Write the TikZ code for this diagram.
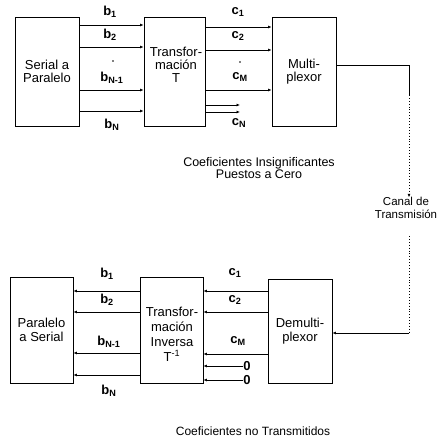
\documentclass[tikz,border=0pt]{standalone}
\usepackage{fontspec}
\setmainfont{Liberation Sans}
\usetikzlibrary{arrows.meta,calc}
\begin{document}
\begin{tikzpicture}[x=1pt,y=-1pt,
  blk/.style={draw, line width=0.9pt, inner sep=0pt, align=center, font=\fontsize{13}{13.5}\selectfont},
  lbl/.style={inner sep=0pt, font=\fontsize{13}{14}\selectfont\bfseries},
  txt/.style={inner sep=0pt, align=center, font=\fontsize{12.5}{12.5}\selectfont},
  conn/.style={line width=0.9pt, -{Latex[length=3.5pt,width=3pt]}},
  wire/.style={line width=0.9pt},
  faint/.style={line width=0.9pt, dotted},
  dotm/.style={circle, fill, inner sep=0pt, minimum size=1.6pt}
]
\useasboundingbox (0,0) rectangle (439,441);
% ---------------- transmitter ----------------
\node[blk, minimum width=64pt, minimum height=109pt] (sp) at (47,71.5) {Serial a\\Paralelo};
\node[blk, minimum width=61pt, minimum height=109pt] (tr) at (174.5,71.5) {};
\node[txt, font=\fontsize{13}{13}\selectfont] (trt) at (176,65) {Transfor-\\mación\\T};
\node[blk, minimum width=64pt, minimum height=109pt] (mux) at (304,71.5) {Multi-\\plexor};

\coordinate (yb1) at (0,25);  \coordinate (yb2) at (0,47);
\coordinate (ybn1) at (0,90); \coordinate (ybn) at (0,111);
\coordinate (yc1) at (0,27);  \coordinate (yc2) at (0,50);
\coordinate (ycm) at (0,90);
\coordinate (e1) at (240,105); \coordinate (e2) at (240,112);

\draw[conn] (sp.east |- yb1) -- (tr.west |- yb1);
\draw[conn] (sp.east |- yb2) -- (tr.west |- yb2);
\draw[conn] (sp.east |- ybn1) -- (tr.west |- ybn1);
\draw[conn] (sp.east |- ybn) -- (tr.west |- ybn);
\draw[conn] (tr.east |- yc1) -- (mux.west |- yc1);
\draw[conn] (tr.east |- yc2) -- (mux.west |- yc2);
\draw[conn] (tr.east |- ycm) -- (mux.west |- ycm);
\draw[conn] (tr.east |- e1) -- (e1);
\draw[conn] (tr.east |- e2) -- (e2);

\node[lbl] (lb1) at (110,12) {b\textsubscript{1}};
\node[lbl] (lb2) at (110,35) {b\textsubscript{2}};
\node[dotm] (d1) at (113,61) {};
\node[lbl] (lbn1) at (112,78) {b\textsubscript{N-1}};
\node[lbl] (lbn) at (112,125) {b\textsubscript{N}};
\node[lbl] (lc1) at (238,12) {c\textsubscript{1}};
\node[lbl] (lc2) at (238,36) {c\textsubscript{2}};
\node[dotm] (d2) at (240,62) {};
\node[lbl] (lcm) at (240,77) {c\textsubscript{M}};
\node[lbl] (lcn) at (239,123) {c\textsubscript{N}};

\node[txt] (ins) at (259,168) {Coeficientes Insignificantes\\Puestos a Cero};
\node[txt, font=\fontsize{11.5}{12.5}\selectfont] (canal) at (406,208) {Canal de\\Transmisión};

\coordinate (o1) at (409,65);
\coordinate (o2) at (409,95);
\draw[wire] (mux.east |- o1) -- (o1) -- (o2);
\draw[faint, -{Latex[length=3.5pt,width=3pt]}] (o2) -- (o2 |- canal.north);

% ---------------- receiver ----------------
\node[blk, minimum width=63pt, minimum height=106pt] (ps) at (41.5,330) {Paralelo\\a Serial};
\node[blk, minimum width=63pt, minimum height=106pt] (inv) at (171.5,330) {};
\node[txt, font=\fontsize{13}{15}\selectfont] (invt) at (172,334) {Transfor-\\mación\\Inversa\\T\textsuperscript{-1}};
\node[blk, minimum width=64pt, minimum height=104pt] (dmx) at (300,331) {Demulti-\\plexor};

\coordinate (ch1) at (409,236);
\coordinate (ch2) at (409,333);
\draw[faint] (ch1) -- (ch2);
\draw[conn] (ch2) -- (dmx.east |- ch2);

\coordinate (rc1) at (0,291); \coordinate (rc2) at (0,312);
\coordinate (rcm) at (0,354);
\coordinate (rb1) at (0,291); \coordinate (rb2) at (0,312);
\coordinate (rbn1) at (0,353); \coordinate (rbn) at (0,375);

\draw[conn] (dmx.west |- rc1) -- (inv.east |- rc1);
\draw[conn] (dmx.west |- rc2) -- (inv.east |- rc2);
\draw[conn] (dmx.west |- rcm) -- (inv.east |- rcm);
\node[lbl] (z1) at (247,366) {0};
\node[lbl] (z2) at (247,380) {0};
\draw[conn] (z1.west) -- (inv.east |- z1);
\draw[conn] (z2.west) -- (inv.east |- z2);

\draw[conn] (inv.west |- rb1) -- (ps.east |- rb1);
\draw[conn] (inv.west |- rb2) -- (ps.east |- rb2);
\draw[conn] (inv.west |- rbn1) -- (ps.east |- rbn1);
\draw[conn] (inv.west |- rbn) -- (ps.east |- rbn);

\node[lbl] (rlb1) at (107,274) {b\textsubscript{1}};
\node[lbl] (rlb2) at (107,300) {b\textsubscript{2}};
\node[lbl] (rlbn1) at (109,342) {b\textsubscript{N-1}};
\node[lbl] (rlbn) at (109,391) {b\textsubscript{N}};
\node[lbl] (rlc1) at (235,273) {c\textsubscript{1}};
\node[lbl] (rlc2) at (235,300) {c\textsubscript{2}};
\node[lbl] (rlcm) at (238,341) {c\textsubscript{M}};

\node[txt, font=\fontsize{12}{12}\selectfont] (nt) at (253,431) {Coeficientes no Transmitidos};
\end{tikzpicture}
\end{document}
